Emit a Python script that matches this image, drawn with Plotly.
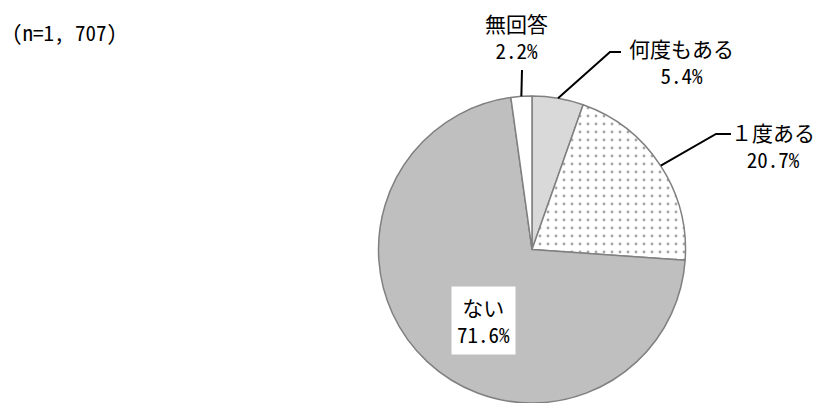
import math

import plotly.graph_objects as go

labels = ["何度もある", "１度ある", "ない", "無回答"]
values = [5.4, 20.7, 71.6, 2.2]
colors = ["#d9d9d9", "#ffffff", "#bfbfbf", "#ffffff"]
patterns = ["", ".", "", ""]
sample_note = "(n=1, 707)"

# the page body has an 8px margin, so the figure is drawn 8px in
OFF = 8
W, H = 823 - OFF, 403 - OFF
FONT = "Noto Sans Mono CJK JP, Noto Sans CJK JP, sans-serif"

# pie geometry in screen pixels
cx, top, bottom = 532, 96, 404
r = (bottom - top) / 2
cy = top + r


def px(x):
    return (x - OFF) / W


def py(y):
    return 1 - (y - OFF) / H


def edge_point(idx):
    # mid angle of slice idx, clockwise from 12 o'clock
    start = sum(values[:idx])
    mid = (start + values[idx] / 2) / sum(values) * 2 * math.pi
    return cx + r * math.sin(mid), cy - r * math.cos(mid)


fig = go.Figure(
    go.Pie(
        labels=labels,
        values=values,
        sort=False,
        direction="clockwise",
        rotation=0,
        textinfo="none",
        hoverinfo="label+percent",
        marker=dict(
            colors=colors,
            line=dict(color="#808080", width=1.5),
            pattern=dict(shape=patterns, fgcolor="#a6a6a6", bgcolor="#ffffff",
                         size=8, solidity=0.1),
        ),
        domain=dict(x=[px(cx - r), px(cx + r)], y=[0, py(top)]),
        showlegend=False,
    )
)

shapes = []
annotations = []

# leader lines: slice edge -> elbow -> end
leaders = {
    0: [(610, 52), (621, 52)],
    1: [(716, 134), (731, 134)],
    3: [(522, 70)],
}
for idx, pts in leaders.items():
    x0, y0 = edge_point(idx)
    path = f"M {px(x0)},{py(y0)}" + "".join(f" L {px(x)},{py(y)}" for x, y in pts)
    shapes.append(dict(type="path", xref="paper", yref="paper", path=path,
                       line=dict(color="#000000", width=2)))

# the page only shows up to x=815, so the right label sits a bit inward
label_pos = {0: (681, 61), 1: (773, 145), 3: (517, 36)}
for idx, (x, y) in label_pos.items():
    annotations.append(dict(
        x=px(x), y=py(y), xref="paper", yref="paper", showarrow=False,
        xanchor="center", yanchor="middle",
        text=f"{labels[idx]}<br>{values[idx]}%", align="center",
        font=dict(size=21, color="#000000", family=FONT),
    ))

annotations.append(dict(
    x=px(483), y=py(320), xref="paper", yref="paper", showarrow=False,
    xanchor="center", yanchor="middle",
    text=f"{labels[2]}<br>{values[2]}%", align="center",
    bgcolor="#ffffff", borderpad=5,
    font=dict(size=21, color="#000000", family=FONT),
))

annotations.append(dict(
    x=px(10), y=py(32), xref="paper", yref="paper", showarrow=False,
    xanchor="left", yanchor="middle", text=sample_note,
    font=dict(size=21, color="#000000", family=FONT),
))

fig.update_layout(
    width=W,
    height=H,
    margin=dict(l=0, r=0, t=0, b=0),
    paper_bgcolor="#ffffff",
    plot_bgcolor="#ffffff",
    shapes=shapes,
    annotations=annotations,
)

fig.write_html("out.html")
